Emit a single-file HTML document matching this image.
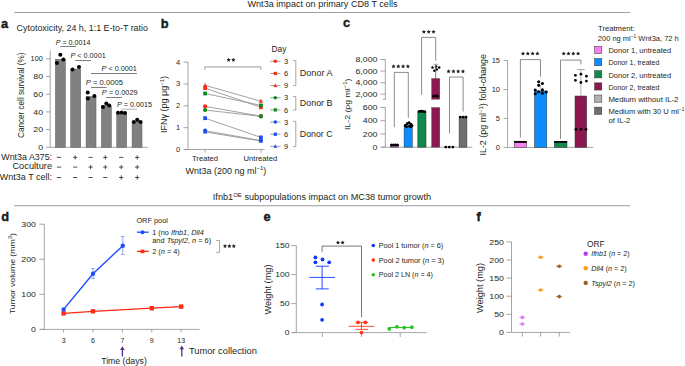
<!DOCTYPE html>
<html><head><meta charset="utf-8"><style>
html,body{margin:0;padding:0;background:#fff;width:685px;height:366px;overflow:hidden}
svg{display:block}
text{font-family:"Liberation Sans",sans-serif;fill:#231f20}
</style></head><body>
<svg width="685" height="366" viewBox="0 0 685 366">
<text x="247.50" y="6.80" font-size="8.3" textLength="150.00" lengthAdjust="spacingAndGlyphs" >Wnt3a impact on primary CD8 T cells</text>
<line x1="14.00" y1="12.50" x2="630.00" y2="12.50" stroke="#a0a0a0" stroke-width="1.2"/>
<text x="212.8" y="199.8" font-size="8.3" textLength="218.3" lengthAdjust="spacingAndGlyphs">Ifnb1<tspan font-size="5.5" dy="-3.2">OE</tspan><tspan dy="3.2"> subpopulations impact on MC38 tumor growth</tspan></text>
<line x1="14.00" y1="205.60" x2="630.00" y2="205.60" stroke="#b0b0b0" stroke-width="1.2"/>
<text x="1.00" y="27.70" font-size="12.8" fill="#000" font-weight="bold" stroke="#000" stroke-width="0.35">a</text>
<text x="16.60" y="30.60" font-size="8.3" textLength="131.40" lengthAdjust="spacingAndGlyphs" >Cytotoxicity, 24 h, 1:1 E-to-T ratio</text>
<line x1="50.20" y1="50.50" x2="50.20" y2="147.80" stroke="#8f8f8f" stroke-width="0.8"/>
<line x1="46.00" y1="147.30" x2="50.20" y2="147.30" stroke="#8f8f8f" stroke-width="0.8"/>
<text x="0" y="0" font-size="7.3" text-anchor="end" transform="translate(43.10,149.90) scale(1.2,1)">0</text>
<line x1="46.00" y1="129.60" x2="50.20" y2="129.60" stroke="#8f8f8f" stroke-width="0.8"/>
<text x="0" y="0" font-size="7.3" text-anchor="end" transform="translate(43.10,132.20) scale(1.2,1)">20</text>
<line x1="46.00" y1="111.90" x2="50.20" y2="111.90" stroke="#8f8f8f" stroke-width="0.8"/>
<text x="0" y="0" font-size="7.3" text-anchor="end" transform="translate(43.10,114.50) scale(1.2,1)">40</text>
<line x1="46.00" y1="94.20" x2="50.20" y2="94.20" stroke="#8f8f8f" stroke-width="0.8"/>
<text x="0" y="0" font-size="7.3" text-anchor="end" transform="translate(43.10,96.80) scale(1.2,1)">60</text>
<line x1="46.00" y1="76.50" x2="50.20" y2="76.50" stroke="#8f8f8f" stroke-width="0.8"/>
<text x="0" y="0" font-size="7.3" text-anchor="end" transform="translate(43.10,79.10) scale(1.2,1)">80</text>
<line x1="46.00" y1="58.80" x2="50.20" y2="58.80" stroke="#8f8f8f" stroke-width="0.8"/>
<text x="0" y="0" font-size="7.3" text-anchor="end" transform="translate(42.80,61.40) scale(1.0,1)">100</text>
<line x1="50.20" y1="147.30" x2="147.70" y2="147.30" stroke="#8f8f8f" stroke-width="0.8"/>
<text x="0" y="0" font-size="8.3" text-anchor="middle" textLength="85.30" lengthAdjust="spacingAndGlyphs" transform="translate(24.30,95.30) rotate(-90)">Cancer cell survival (%)</text>
<rect x="55.45" y="59.30" width="9.90" height="88.00" fill="#808080" stroke="#5a5a5a" stroke-width="0.5"/>
<rect x="70.78" y="69.04" width="9.90" height="78.27" fill="#808080" stroke="#5a5a5a" stroke-width="0.5"/>
<rect x="86.11" y="96.47" width="9.90" height="50.83" fill="#808080" stroke="#5a5a5a" stroke-width="0.5"/>
<rect x="101.44" y="105.76" width="9.90" height="41.54" fill="#808080" stroke="#5a5a5a" stroke-width="0.5"/>
<rect x="116.77" y="113.29" width="9.90" height="34.02" fill="#808080" stroke="#5a5a5a" stroke-width="0.5"/>
<rect x="132.10" y="121.25" width="9.90" height="26.05" fill="#808080" stroke="#5a5a5a" stroke-width="0.5"/>
<circle cx="60.30" cy="54.70" r="2.0" fill="#000"/>
<circle cx="56.90" cy="63.00" r="2.0" fill="#000"/>
<circle cx="63.40" cy="59.40" r="2.0" fill="#000"/>
<circle cx="72.50" cy="69.60" r="2.0" fill="#000"/>
<circle cx="79.00" cy="67.10" r="2.0" fill="#000"/>
<circle cx="87.70" cy="92.40" r="2.0" fill="#000"/>
<circle cx="87.90" cy="98.60" r="2.0" fill="#000"/>
<circle cx="94.40" cy="96.00" r="2.0" fill="#000"/>
<circle cx="103.00" cy="107.00" r="2.0" fill="#000"/>
<circle cx="106.30" cy="103.40" r="2.0" fill="#000"/>
<circle cx="109.20" cy="105.40" r="2.0" fill="#000"/>
<circle cx="118.00" cy="112.80" r="2.0" fill="#000"/>
<circle cx="121.60" cy="112.60" r="2.0" fill="#000"/>
<circle cx="125.00" cy="112.90" r="2.0" fill="#000"/>
<circle cx="133.80" cy="121.90" r="2.0" fill="#000"/>
<circle cx="137.20" cy="119.80" r="2.0" fill="#000"/>
<circle cx="140.50" cy="121.90" r="2.0" fill="#000"/>
<text x="55.70" y="44.70" font-size="6.8" textLength="34.80" lengthAdjust="spacingAndGlyphs" ><tspan font-style="italic">P</tspan> = 0.0014</text>
<line x1="60.30" y1="46.50" x2="76.00" y2="46.50" stroke="#6d6e70" stroke-width="0.9"/>
<text x="70.50" y="58.20" font-size="6.8" textLength="35.20" lengthAdjust="spacingAndGlyphs" ><tspan font-style="italic">P</tspan> &lt; 0.0001</text>
<line x1="75.40" y1="60.50" x2="91.00" y2="60.50" stroke="#6d6e70" stroke-width="0.9"/>
<text x="101.60" y="71.00" font-size="6.8" textLength="35.30" lengthAdjust="spacingAndGlyphs" ><tspan font-style="italic">P</tspan> &lt; 0.0001</text>
<line x1="91.00" y1="73.50" x2="136.90" y2="73.50" stroke="#6d6e70" stroke-width="0.9"/>
<text x="85.70" y="85.10" font-size="6.8" textLength="37.30" lengthAdjust="spacingAndGlyphs" ><tspan font-style="italic">P</tspan> = 0.0005</text>
<line x1="91.00" y1="87.50" x2="106.60" y2="87.50" stroke="#6d6e70" stroke-width="0.9"/>
<text x="101.80" y="95.10" font-size="6.8" textLength="35.90" lengthAdjust="spacingAndGlyphs" ><tspan font-style="italic">P</tspan> = 0.0029</text>
<line x1="106.20" y1="97.50" x2="121.80" y2="97.50" stroke="#6d6e70" stroke-width="0.9"/>
<text x="116.90" y="107.10" font-size="6.8" textLength="35.10" lengthAdjust="spacingAndGlyphs" ><tspan font-style="italic">P</tspan> = 0.0015</text>
<line x1="121.90" y1="109.20" x2="137.00" y2="109.20" stroke="#a7a9ac" stroke-width="0.9"/>
<text x="52.10" y="159.60" font-size="8.3" text-anchor="end" textLength="50.80" lengthAdjust="spacingAndGlyphs" >Wnt3a A375:</text>
<line x1="56.90" y1="157.40" x2="61.10" y2="157.40" stroke="#3a3a3a" stroke-width="0.9"/>
<line x1="73.10" y1="157.40" x2="77.30" y2="157.40" stroke="#3a3a3a" stroke-width="0.9"/>
<line x1="75.20" y1="155.30" x2="75.20" y2="159.50" stroke="#3a3a3a" stroke-width="0.9"/>
<line x1="88.50" y1="157.40" x2="92.70" y2="157.40" stroke="#3a3a3a" stroke-width="0.9"/>
<line x1="103.20" y1="157.40" x2="107.40" y2="157.40" stroke="#3a3a3a" stroke-width="0.9"/>
<line x1="105.30" y1="155.30" x2="105.30" y2="159.50" stroke="#3a3a3a" stroke-width="0.9"/>
<line x1="119.10" y1="157.40" x2="123.30" y2="157.40" stroke="#3a3a3a" stroke-width="0.9"/>
<line x1="135.10" y1="157.40" x2="139.30" y2="157.40" stroke="#3a3a3a" stroke-width="0.9"/>
<line x1="137.20" y1="155.30" x2="137.20" y2="159.50" stroke="#3a3a3a" stroke-width="0.9"/>
<text x="52.10" y="169.40" font-size="8.3" text-anchor="end" textLength="39.70" lengthAdjust="spacingAndGlyphs" >Coculture</text>
<line x1="56.90" y1="167.10" x2="61.10" y2="167.10" stroke="#3a3a3a" stroke-width="0.9"/>
<line x1="73.10" y1="167.10" x2="77.30" y2="167.10" stroke="#3a3a3a" stroke-width="0.9"/>
<line x1="88.50" y1="167.10" x2="92.70" y2="167.10" stroke="#3a3a3a" stroke-width="0.9"/>
<line x1="90.60" y1="165.00" x2="90.60" y2="169.20" stroke="#3a3a3a" stroke-width="0.9"/>
<line x1="103.20" y1="167.10" x2="107.40" y2="167.10" stroke="#3a3a3a" stroke-width="0.9"/>
<line x1="105.30" y1="165.00" x2="105.30" y2="169.20" stroke="#3a3a3a" stroke-width="0.9"/>
<line x1="119.10" y1="167.10" x2="123.30" y2="167.10" stroke="#3a3a3a" stroke-width="0.9"/>
<line x1="121.20" y1="165.00" x2="121.20" y2="169.20" stroke="#3a3a3a" stroke-width="0.9"/>
<line x1="135.10" y1="167.10" x2="139.30" y2="167.10" stroke="#3a3a3a" stroke-width="0.9"/>
<line x1="137.20" y1="165.00" x2="137.20" y2="169.20" stroke="#3a3a3a" stroke-width="0.9"/>
<text x="52.10" y="179.60" font-size="8.3" text-anchor="end" textLength="52.30" lengthAdjust="spacingAndGlyphs" >Wnt3a T cell:</text>
<line x1="56.90" y1="177.50" x2="61.10" y2="177.50" stroke="#3a3a3a" stroke-width="0.9"/>
<line x1="73.10" y1="177.50" x2="77.30" y2="177.50" stroke="#3a3a3a" stroke-width="0.9"/>
<line x1="88.50" y1="177.50" x2="92.70" y2="177.50" stroke="#3a3a3a" stroke-width="0.9"/>
<line x1="103.20" y1="177.50" x2="107.40" y2="177.50" stroke="#3a3a3a" stroke-width="0.9"/>
<line x1="119.10" y1="177.50" x2="123.30" y2="177.50" stroke="#3a3a3a" stroke-width="0.9"/>
<line x1="121.20" y1="175.40" x2="121.20" y2="179.60" stroke="#3a3a3a" stroke-width="0.9"/>
<line x1="135.10" y1="177.50" x2="139.30" y2="177.50" stroke="#3a3a3a" stroke-width="0.9"/>
<line x1="137.20" y1="175.40" x2="137.20" y2="179.60" stroke="#3a3a3a" stroke-width="0.9"/>
<text x="160.80" y="28.00" font-size="12.8" fill="#000" font-weight="bold" stroke="#000" stroke-width="0.35">b</text>
<line x1="188.00" y1="62.00" x2="188.00" y2="149.50" stroke="#8f8f8f" stroke-width="0.8"/>
<line x1="183.50" y1="149.50" x2="188.00" y2="149.50" stroke="#8f8f8f" stroke-width="0.8"/>
<text x="180.20" y="152.00" font-size="7.5" text-anchor="end" >0</text>
<line x1="183.50" y1="127.65" x2="188.00" y2="127.65" stroke="#8f8f8f" stroke-width="0.8"/>
<text x="180.20" y="130.15" font-size="7.5" text-anchor="end" >1</text>
<line x1="183.50" y1="105.80" x2="188.00" y2="105.80" stroke="#8f8f8f" stroke-width="0.8"/>
<text x="180.20" y="108.30" font-size="7.5" text-anchor="end" >2</text>
<line x1="183.50" y1="83.95" x2="188.00" y2="83.95" stroke="#8f8f8f" stroke-width="0.8"/>
<text x="180.20" y="86.45" font-size="7.5" text-anchor="end" >3</text>
<line x1="183.50" y1="62.10" x2="188.00" y2="62.10" stroke="#8f8f8f" stroke-width="0.8"/>
<text x="180.20" y="64.60" font-size="7.5" text-anchor="end" >4</text>
<line x1="184.00" y1="149.50" x2="264.60" y2="149.50" stroke="#8f8f8f" stroke-width="0.8"/>
<line x1="205.00" y1="149.50" x2="205.00" y2="152.60" stroke="#8f8f8f" stroke-width="0.8"/>
<line x1="261.00" y1="149.50" x2="261.00" y2="152.60" stroke="#8f8f8f" stroke-width="0.8"/>
<text x="205.00" y="160.60" font-size="7" text-anchor="middle" textLength="26.00" lengthAdjust="spacingAndGlyphs" >Treated</text>
<text x="260.40" y="160.60" font-size="7" text-anchor="middle" textLength="33.80" lengthAdjust="spacingAndGlyphs" >Untreated</text>
<text x="185.6" y="173.7" font-size="8.3" textLength="80.7" lengthAdjust="spacingAndGlyphs">Wnt3a (200 ng ml<tspan font-size="5.5" dy="-3.6">−1</tspan><tspan dy="3.6">)</tspan></text>
<text x="0" y="0" font-size="8.3" text-anchor="middle" textLength="57.00" lengthAdjust="spacingAndGlyphs" transform="translate(166.70,104.50) rotate(-90)">IFNγ (pg μg<tspan font-size="5.5" dy="-3">−1</tspan><tspan dy="3">)</tspan></text>
<path d="M228.65,57.75 L229.28,59.03 L230.69,59.24 L229.67,60.23 L229.91,61.64 L228.65,60.98 L227.39,61.64 L227.63,60.23 L226.61,59.24 L228.02,59.03 Z" fill="#231f20"/>
<path d="M233.35,57.75 L233.98,59.03 L235.39,59.24 L234.37,60.23 L234.61,61.64 L233.35,60.98 L232.09,61.64 L232.33,60.23 L231.31,59.24 L232.72,59.03 Z" fill="#231f20"/>
<path d="M204.9,69.8 V66.9 H260.9 V69.8" stroke="#8f8f8f" stroke-width="0.9" fill="none" />
<line x1="205.10" y1="85.30" x2="260.90" y2="101.20" stroke="#8a8a8a" stroke-width="0.8"/>
<line x1="205.10" y1="88.10" x2="260.90" y2="107.30" stroke="#8a8a8a" stroke-width="0.8"/>
<line x1="205.10" y1="93.50" x2="260.90" y2="105.40" stroke="#8a8a8a" stroke-width="0.8"/>
<line x1="205.10" y1="106.40" x2="260.90" y2="116.20" stroke="#8a8a8a" stroke-width="0.8"/>
<line x1="205.10" y1="110.00" x2="260.90" y2="116.40" stroke="#8a8a8a" stroke-width="0.8"/>
<line x1="205.10" y1="118.20" x2="260.90" y2="137.40" stroke="#8a8a8a" stroke-width="0.8"/>
<line x1="205.10" y1="130.70" x2="260.90" y2="140.60" stroke="#8a8a8a" stroke-width="0.8"/>
<line x1="205.10" y1="132.00" x2="260.90" y2="141.00" stroke="#8a8a8a" stroke-width="0.8"/>
<path d="M205.10,82.92 L207.31,86.89 L202.89,86.89 Z" fill="#ff2a12"/>
<path d="M260.90,98.82 L263.10,102.79 L258.69,102.79 Z" fill="#ff2a12"/>
<rect x="203.21" y="86.21" width="3.78" height="3.78" fill="#ff2a12" stroke="none" stroke-width="0.5"/>
<rect x="259.01" y="105.41" width="3.78" height="3.78" fill="#ff2a12" stroke="none" stroke-width="0.5"/>
<rect x="203.21" y="91.61" width="3.78" height="3.78" fill="#0b8c1e" stroke="none" stroke-width="0.5"/>
<rect x="259.01" y="103.51" width="3.78" height="3.78" fill="#0b8c1e" stroke="none" stroke-width="0.5"/>
<circle cx="205.10" cy="106.40" r="2.1" fill="#ff2a12"/>
<circle cx="260.90" cy="116.20" r="2.1" fill="#ff2a12"/>
<circle cx="205.10" cy="110.00" r="2.1" fill="#0b8c1e"/>
<circle cx="260.90" cy="116.40" r="2.1" fill="#0b8c1e"/>
<rect x="203.21" y="116.31" width="3.78" height="3.78" fill="#1b4cf0" stroke="none" stroke-width="0.5"/>
<rect x="259.01" y="135.51" width="3.78" height="3.78" fill="#1b4cf0" stroke="none" stroke-width="0.5"/>
<circle cx="205.10" cy="130.70" r="2.1" fill="#1b4cf0"/>
<circle cx="260.90" cy="140.60" r="2.1" fill="#1b4cf0"/>
<path d="M205.10,129.62 L207.31,133.59 L202.89,133.59 Z" fill="#1b4cf0"/>
<path d="M260.90,138.62 L263.10,142.59 L258.69,142.59 Z" fill="#1b4cf0"/>
<text x="271.60" y="52.00" font-size="8.3" >Day</text>
<line x1="270.00" y1="61.30" x2="280.60" y2="61.30" stroke="#8a8a8a" stroke-width="0.8"/>
<circle cx="275.30" cy="61.30" r="1.8" fill="#ff2a12"/>
<text x="284.00" y="63.90" font-size="7.5" >3</text>
<line x1="270.00" y1="73.45" x2="280.60" y2="73.45" stroke="#8a8a8a" stroke-width="0.8"/>
<rect x="273.68" y="71.83" width="3.24" height="3.24" fill="#ff2a12" stroke="none" stroke-width="0.5"/>
<text x="284.00" y="76.05" font-size="7.5" >6</text>
<line x1="270.00" y1="85.60" x2="280.60" y2="85.60" stroke="#8a8a8a" stroke-width="0.8"/>
<path d="M275.30,83.56 L277.19,86.96 L273.41,86.96 Z" fill="#ff2a12"/>
<text x="284.00" y="88.20" font-size="7.5" >9</text>
<line x1="270.00" y1="97.75" x2="280.60" y2="97.75" stroke="#8a8a8a" stroke-width="0.8"/>
<circle cx="275.30" cy="97.75" r="1.8" fill="#0b8c1e"/>
<text x="284.00" y="100.35" font-size="7.5" >3</text>
<line x1="270.00" y1="109.90" x2="280.60" y2="109.90" stroke="#8a8a8a" stroke-width="0.8"/>
<rect x="273.68" y="108.28" width="3.24" height="3.24" fill="#0b8c1e" stroke="none" stroke-width="0.5"/>
<text x="284.00" y="112.50" font-size="7.5" >6</text>
<line x1="270.00" y1="122.05" x2="280.60" y2="122.05" stroke="#8a8a8a" stroke-width="0.8"/>
<circle cx="275.30" cy="122.05" r="1.8" fill="#1b4cf0"/>
<text x="284.00" y="124.65" font-size="7.5" >3</text>
<line x1="270.00" y1="134.20" x2="280.60" y2="134.20" stroke="#8a8a8a" stroke-width="0.8"/>
<rect x="273.68" y="132.58" width="3.24" height="3.24" fill="#1b4cf0" stroke="none" stroke-width="0.5"/>
<text x="284.00" y="136.80" font-size="7.5" >6</text>
<line x1="270.00" y1="146.35" x2="280.60" y2="146.35" stroke="#8a8a8a" stroke-width="0.8"/>
<path d="M275.30,144.31 L277.19,147.71 L273.41,147.71 Z" fill="#1b4cf0"/>
<text x="284.00" y="148.95" font-size="7.5" >9</text>
<path d="M293,60.5 H295.8 V85.6 H293" stroke="#8f8f8f" stroke-width="0.8" fill="none" />
<text x="299.80" y="76.05" font-size="8.3" textLength="32.70" lengthAdjust="spacingAndGlyphs" >Donor A</text>
<path d="M293,96.6 H295.8 V110 H293" stroke="#8f8f8f" stroke-width="0.8" fill="none" />
<text x="299.80" y="106.30" font-size="8.3" textLength="32.70" lengthAdjust="spacingAndGlyphs" >Donor B</text>
<path d="M293,121.3 H295.8 V146.6 H293" stroke="#8f8f8f" stroke-width="0.8" fill="none" />
<text x="299.80" y="136.95" font-size="8.3" textLength="32.70" lengthAdjust="spacingAndGlyphs" >Donor C</text>
<text x="343.00" y="27.30" font-size="12.8" fill="#000" font-weight="bold" stroke="#000" stroke-width="0.35">c</text>
<line x1="385.30" y1="59.50" x2="385.30" y2="99.50" stroke="#8f8f8f" stroke-width="0.8"/>
<line x1="382.80" y1="99.50" x2="385.30" y2="99.50" stroke="#8f8f8f" stroke-width="0.8"/>
<line x1="385.30" y1="107.30" x2="385.30" y2="147.20" stroke="#8f8f8f" stroke-width="0.8"/>
<line x1="380.30" y1="59.50" x2="385.30" y2="59.50" stroke="#8f8f8f" stroke-width="0.8"/>
<text x="0" y="0" font-size="7.5" text-anchor="end" transform="translate(377.50,62.10) scale(1.18,1)">8,000</text>
<line x1="380.30" y1="71.00" x2="385.30" y2="71.00" stroke="#8f8f8f" stroke-width="0.8"/>
<text x="0" y="0" font-size="7.5" text-anchor="end" transform="translate(377.50,73.60) scale(1.18,1)">6,000</text>
<line x1="380.30" y1="82.70" x2="385.30" y2="82.70" stroke="#8f8f8f" stroke-width="0.8"/>
<text x="0" y="0" font-size="7.5" text-anchor="end" transform="translate(377.50,85.30) scale(1.18,1)">4,000</text>
<line x1="380.30" y1="94.20" x2="385.30" y2="94.20" stroke="#8f8f8f" stroke-width="0.8"/>
<text x="0" y="0" font-size="7.5" text-anchor="end" transform="translate(377.50,96.80) scale(1.18,1)">2,000</text>
<line x1="380.30" y1="107.40" x2="385.30" y2="107.40" stroke="#8f8f8f" stroke-width="0.8"/>
<text x="0" y="0" font-size="7.5" text-anchor="end" transform="translate(377.50,110.00) scale(1.18,1)">600</text>
<line x1="380.30" y1="120.70" x2="385.30" y2="120.70" stroke="#8f8f8f" stroke-width="0.8"/>
<text x="0" y="0" font-size="7.5" text-anchor="end" transform="translate(377.50,123.30) scale(1.18,1)">400</text>
<line x1="380.30" y1="133.90" x2="385.30" y2="133.90" stroke="#8f8f8f" stroke-width="0.8"/>
<text x="0" y="0" font-size="7.5" text-anchor="end" transform="translate(377.50,136.50) scale(1.18,1)">200</text>
<line x1="380.30" y1="147.20" x2="385.30" y2="147.20" stroke="#8f8f8f" stroke-width="0.8"/>
<text x="0" y="0" font-size="7.5" text-anchor="end" transform="translate(377.50,149.80) scale(1.18,1)">0</text>
<line x1="382.00" y1="147.20" x2="472.40" y2="147.20" stroke="#8f8f8f" stroke-width="0.8"/>
<text x="0" y="0" font-size="8.1" text-anchor="middle" textLength="51.60" lengthAdjust="spacingAndGlyphs" transform="translate(350.00,104.30) rotate(-90)">IL-2 (pg ml<tspan font-size="5.5" dy="-3">−1</tspan><tspan dy="3">)</tspan></text>
<rect x="390.40" y="144.50" width="8.20" height="2.70" fill="#f77ff0" stroke="#333" stroke-width="0.5"/>
<rect x="404.10" y="126.00" width="8.20" height="21.20" fill="#0c8cff" stroke="#333" stroke-width="0.5"/>
<rect x="417.80" y="111.60" width="8.20" height="35.60" fill="#0f8a4a" stroke="#333" stroke-width="0.5"/>
<rect x="431.60" y="107.50" width="8.20" height="39.70" fill="#8c1850" stroke="#333" stroke-width="0.3"/>
<rect x="431.60" y="78.50" width="8.20" height="20.80" fill="#8c1850" stroke="#333" stroke-width="0.3"/>
<rect x="459.10" y="117.50" width="7.80" height="29.70" fill="#6f6f6f" stroke="#333" stroke-width="0.5"/>
<circle cx="391.60" cy="145.00" r="1.5" fill="#000"/>
<circle cx="393.60" cy="145.00" r="1.5" fill="#000"/>
<circle cx="395.50" cy="145.00" r="1.5" fill="#000"/>
<circle cx="397.40" cy="145.00" r="1.5" fill="#000"/>
<circle cx="405.30" cy="125.50" r="1.45" fill="#000"/>
<circle cx="407.20" cy="123.80" r="1.45" fill="#000"/>
<circle cx="409.00" cy="122.80" r="1.45" fill="#000"/>
<circle cx="410.80" cy="124.20" r="1.45" fill="#000"/>
<circle cx="412.00" cy="125.60" r="1.45" fill="#000"/>
<circle cx="406.50" cy="126.80" r="1.45" fill="#000"/>
<circle cx="409.50" cy="126.30" r="1.45" fill="#000"/>
<circle cx="411.00" cy="126.80" r="1.45" fill="#000"/>
<circle cx="419.30" cy="111.50" r="1.45" fill="#000"/>
<circle cx="421.10" cy="111.20" r="1.45" fill="#000"/>
<circle cx="422.90" cy="111.40" r="1.45" fill="#000"/>
<circle cx="424.60" cy="111.70" r="1.45" fill="#000"/>
<circle cx="433.50" cy="96.20" r="1.4" fill="#000"/>
<circle cx="437.50" cy="96.20" r="1.4" fill="#000"/>
<circle cx="435.70" cy="95.80" r="1.4" fill="#000"/>
<circle cx="432.50" cy="67.40" r="1.25" fill="#000"/>
<circle cx="436.10" cy="66.40" r="1.25" fill="#000"/>
<circle cx="439.20" cy="67.60" r="1.25" fill="#000"/>
<circle cx="434.40" cy="70.70" r="1.25" fill="#000"/>
<circle cx="436.80" cy="69.40" r="1.25" fill="#000"/>
<line x1="435.70" y1="64.30" x2="435.70" y2="78.50" stroke="#555" stroke-width="0.8"/>
<line x1="433.20" y1="64.30" x2="438.20" y2="64.30" stroke="#999" stroke-width="0.8"/>
<circle cx="445.80" cy="147.10" r="1.45" fill="#000"/>
<circle cx="449.30" cy="147.10" r="1.45" fill="#000"/>
<circle cx="452.80" cy="147.10" r="1.45" fill="#000"/>
<circle cx="460.30" cy="117.10" r="1.45" fill="#000"/>
<circle cx="463.20" cy="117.10" r="1.45" fill="#000"/>
<circle cx="466.00" cy="117.10" r="1.45" fill="#000"/>
<path d="M394.3,127.3 V72.4 H408.3 V117.8" stroke="#6e6e6e" stroke-width="0.8" fill="none" />
<path d="M393.50,64.25 L394.13,65.53 L395.54,65.74 L394.52,66.73 L394.76,68.14 L393.50,67.48 L392.24,68.14 L392.48,66.73 L391.46,65.74 L392.87,65.53 Z" fill="#231f20"/>
<path d="M398.30,64.25 L398.93,65.53 L400.34,65.74 L399.32,66.73 L399.56,68.14 L398.30,67.48 L397.04,68.14 L397.28,66.73 L396.26,65.74 L397.67,65.53 Z" fill="#231f20"/>
<path d="M403.10,64.25 L403.73,65.53 L405.14,65.74 L404.12,66.73 L404.36,68.14 L403.10,67.48 L401.84,68.14 L402.08,66.73 L401.06,65.74 L402.47,65.53 Z" fill="#231f20"/>
<path d="M407.90,64.25 L408.53,65.53 L409.94,65.74 L408.92,66.73 L409.16,68.14 L407.90,67.48 L406.64,68.14 L406.88,66.73 L405.86,65.74 L407.27,65.53 Z" fill="#231f20"/>
<path d="M421.6,94.9 V37.4 H435.7 V60.7" stroke="#6e6e6e" stroke-width="0.8" fill="none" />
<path d="M423.90,29.65 L424.53,30.93 L425.94,31.14 L424.92,32.13 L425.16,33.54 L423.90,32.88 L422.64,33.54 L422.88,32.13 L421.86,31.14 L423.27,30.93 Z" fill="#231f20"/>
<path d="M428.70,29.65 L429.33,30.93 L430.74,31.14 L429.72,32.13 L429.96,33.54 L428.70,32.88 L427.44,33.54 L427.68,32.13 L426.66,31.14 L428.07,30.93 Z" fill="#231f20"/>
<path d="M433.50,29.65 L434.13,30.93 L435.54,31.14 L434.52,32.13 L434.76,33.54 L433.50,32.88 L432.24,33.54 L432.48,32.13 L431.46,31.14 L432.87,30.93 Z" fill="#231f20"/>
<path d="M449.5,133.5 V77 H463.1 V111.6" stroke="#6e6e6e" stroke-width="0.8" fill="none" />
<path d="M448.60,69.25 L449.23,70.53 L450.64,70.74 L449.62,71.73 L449.86,73.14 L448.60,72.48 L447.34,73.14 L447.58,71.73 L446.56,70.74 L447.97,70.53 Z" fill="#231f20"/>
<path d="M453.40,69.25 L454.03,70.53 L455.44,70.74 L454.42,71.73 L454.66,73.14 L453.40,72.48 L452.14,73.14 L452.38,71.73 L451.36,70.74 L452.77,70.53 Z" fill="#231f20"/>
<path d="M458.20,69.25 L458.83,70.53 L460.24,70.74 L459.22,71.73 L459.46,73.14 L458.20,72.48 L456.94,73.14 L457.18,71.73 L456.16,70.74 L457.57,70.53 Z" fill="#231f20"/>
<path d="M463.00,69.25 L463.63,70.53 L465.04,70.74 L464.02,71.73 L464.26,73.14 L463.00,72.48 L461.74,73.14 L461.98,71.73 L460.96,70.74 L462.37,70.53 Z" fill="#231f20"/>
<line x1="507.60" y1="60.40" x2="507.60" y2="147.40" stroke="#8f8f8f" stroke-width="0.8"/>
<line x1="503.60" y1="147.40" x2="507.60" y2="147.40" stroke="#8f8f8f" stroke-width="0.8"/>
<text x="500.00" y="149.90" font-size="7.5" text-anchor="end" >0</text>
<line x1="503.60" y1="118.45" x2="507.60" y2="118.45" stroke="#8f8f8f" stroke-width="0.8"/>
<text x="500.00" y="120.95" font-size="7.5" text-anchor="end" >5</text>
<line x1="503.60" y1="89.50" x2="507.60" y2="89.50" stroke="#8f8f8f" stroke-width="0.8"/>
<text x="500.00" y="92.00" font-size="7.5" text-anchor="end" >10</text>
<line x1="503.60" y1="60.55" x2="507.60" y2="60.55" stroke="#8f8f8f" stroke-width="0.8"/>
<text x="500.00" y="63.05" font-size="7.5" text-anchor="end" >15</text>
<line x1="507.60" y1="147.40" x2="593.30" y2="147.40" stroke="#8f8f8f" stroke-width="0.8"/>
<text x="0" y="0" font-size="8.3" text-anchor="middle" textLength="101.50" lengthAdjust="spacingAndGlyphs" transform="translate(485.80,104.80) rotate(-90)">IL-2 (pg ml<tspan font-size="5.5" dy="-3">−1</tspan><tspan dy="3">) fold-change</tspan></text>
<rect x="514.20" y="141.61" width="12.50" height="5.79" fill="#f77ff0" stroke="#333" stroke-width="0.5"/>
<rect x="534.50" y="91.00" width="12.30" height="56.40" fill="#0c8cff" stroke="#333" stroke-width="0.5"/>
<rect x="554.30" y="141.61" width="12.70" height="5.79" fill="#0f8a4a" stroke="#333" stroke-width="0.5"/>
<rect x="575.00" y="96.00" width="11.70" height="51.40" fill="#8c1850" stroke="#333" stroke-width="0.5"/>
<line x1="514.20" y1="141.91" x2="526.70" y2="141.91" stroke="#000" stroke-width="1.9"/>
<line x1="554.30" y1="141.91" x2="567.00" y2="141.91" stroke="#000" stroke-width="1.9"/>
<line x1="540.50" y1="85.00" x2="540.50" y2="89.40" stroke="#aaa" stroke-width="0.8"/>
<circle cx="538.70" cy="81.80" r="1.55" fill="#000"/>
<circle cx="542.40" cy="83.50" r="1.55" fill="#000"/>
<circle cx="538.70" cy="85.30" r="1.55" fill="#000"/>
<circle cx="535.30" cy="90.00" r="1.55" fill="#000"/>
<circle cx="542.40" cy="89.90" r="1.55" fill="#000"/>
<circle cx="538.70" cy="91.70" r="1.55" fill="#000"/>
<circle cx="535.30" cy="93.80" r="1.55" fill="#000"/>
<circle cx="542.40" cy="93.30" r="1.55" fill="#000"/>
<circle cx="546.20" cy="92.10" r="1.55" fill="#000"/>
<line x1="580.90" y1="69.60" x2="580.90" y2="96.00" stroke="#aaa" stroke-width="0.9"/>
<line x1="577.00" y1="69.60" x2="584.70" y2="69.60" stroke="#999" stroke-width="0.9"/>
<circle cx="575.40" cy="75.30" r="1.4" fill="#000"/>
<circle cx="580.90" cy="74.20" r="1.4" fill="#000"/>
<circle cx="586.40" cy="76.20" r="1.4" fill="#000"/>
<circle cx="575.40" cy="80.30" r="1.4" fill="#000"/>
<circle cx="580.90" cy="82.50" r="1.4" fill="#000"/>
<circle cx="586.40" cy="81.10" r="1.4" fill="#000"/>
<circle cx="576.00" cy="129.30" r="1.4" fill="#000"/>
<circle cx="581.00" cy="129.30" r="1.4" fill="#000"/>
<circle cx="586.00" cy="129.30" r="1.4" fill="#000"/>
<path d="M520.4,137.4 V59.6 H540.5 V76.7" stroke="#6e6e6e" stroke-width="0.8" fill="none" />
<path d="M523.00,51.45 L523.63,52.73 L525.04,52.94 L524.02,53.93 L524.26,55.34 L523.00,54.68 L521.74,55.34 L521.98,53.93 L520.96,52.94 L522.37,52.73 Z" fill="#231f20"/>
<path d="M527.80,51.45 L528.43,52.73 L529.84,52.94 L528.82,53.93 L529.06,55.34 L527.80,54.68 L526.54,55.34 L526.78,53.93 L525.76,52.94 L527.17,52.73 Z" fill="#231f20"/>
<path d="M532.60,51.45 L533.23,52.73 L534.64,52.94 L533.62,53.93 L533.86,55.34 L532.60,54.68 L531.34,55.34 L531.58,53.93 L530.56,52.94 L531.97,52.73 Z" fill="#231f20"/>
<path d="M537.40,51.45 L538.03,52.73 L539.44,52.94 L538.42,53.93 L538.66,55.34 L537.40,54.68 L536.14,55.34 L536.38,53.93 L535.36,52.94 L536.77,52.73 Z" fill="#231f20"/>
<path d="M560.5,138.9 V60.1 H580.9 V64.4" stroke="#6e6e6e" stroke-width="0.8" fill="none" />
<path d="M563.70,51.45 L564.33,52.73 L565.74,52.94 L564.72,53.93 L564.96,55.34 L563.70,54.68 L562.44,55.34 L562.68,53.93 L561.66,52.94 L563.07,52.73 Z" fill="#231f20"/>
<path d="M568.50,51.45 L569.13,52.73 L570.54,52.94 L569.52,53.93 L569.76,55.34 L568.50,54.68 L567.24,55.34 L567.48,53.93 L566.46,52.94 L567.87,52.73 Z" fill="#231f20"/>
<path d="M573.30,51.45 L573.93,52.73 L575.34,52.94 L574.32,53.93 L574.56,55.34 L573.30,54.68 L572.04,55.34 L572.28,53.93 L571.26,52.94 L572.67,52.73 Z" fill="#231f20"/>
<path d="M578.10,51.45 L578.73,52.73 L580.14,52.94 L579.12,53.93 L579.36,55.34 L578.10,54.68 L576.84,55.34 L577.08,53.93 L576.06,52.94 L577.47,52.73 Z" fill="#231f20"/>
<text x="598.00" y="31.40" font-size="7.8" textLength="36.70" lengthAdjust="spacingAndGlyphs" >Treatment:</text>
<text x="597.8" y="40.5" font-size="7.8" textLength="81" lengthAdjust="spacingAndGlyphs">200 ng ml<tspan font-size="5" dy="-3">−1</tspan><tspan dy="3"> Wnt3a, 72 h</tspan></text>
<rect x="594.60" y="46.40" width="7.20" height="7.20" fill="#f77ff0" stroke="#333" stroke-width="0.5"/>
<text x="608.40" y="53.20" font-size="7.8" textLength="62.80" lengthAdjust="spacingAndGlyphs" >Donor 1, untreated</text>
<rect x="594.60" y="58.55" width="7.20" height="7.20" fill="#0c8cff" stroke="#333" stroke-width="0.5"/>
<text x="608.40" y="65.35" font-size="7.8" textLength="51.00" lengthAdjust="spacingAndGlyphs" >Donor 1, treated</text>
<rect x="594.60" y="70.70" width="7.20" height="7.20" fill="#0f8a4a" stroke="#333" stroke-width="0.5"/>
<text x="608.40" y="77.50" font-size="7.8" textLength="62.80" lengthAdjust="spacingAndGlyphs" >Donor 2, untreated</text>
<rect x="594.60" y="82.85" width="7.20" height="7.20" fill="#8c1850" stroke="#333" stroke-width="0.5"/>
<text x="608.40" y="89.65" font-size="7.8" textLength="51.00" lengthAdjust="spacingAndGlyphs" >Donor 2, treated</text>
<rect x="594.60" y="95.00" width="7.20" height="7.20" fill="#b1b1b1" stroke="#333" stroke-width="0.5"/>
<text x="608.40" y="101.80" font-size="7.8" textLength="70.00" lengthAdjust="spacingAndGlyphs" >Medium without IL-2</text>
<rect x="594.60" y="107.15" width="7.20" height="7.20" fill="#6f6f6f" stroke="#333" stroke-width="0.5"/>
<text x="608.4" y="114.0" font-size="7.8" textLength="76" lengthAdjust="spacingAndGlyphs">Medium with 30 U ml<tspan font-size="5" dy="-3">−1</tspan></text>
<text x="608.40" y="123.20" font-size="7.8" textLength="22.00" lengthAdjust="spacingAndGlyphs" >of IL-2</text>
<text x="1.20" y="221.00" font-size="12.8" fill="#000" font-weight="bold" stroke="#000" stroke-width="0.35">d</text>
<line x1="44.30" y1="224.20" x2="44.30" y2="329.40" stroke="#8f8f8f" stroke-width="0.8"/>
<line x1="39.30" y1="329.40" x2="44.30" y2="329.40" stroke="#8f8f8f" stroke-width="0.8"/>
<text x="0" y="0" font-size="7.5" text-anchor="end" transform="translate(36.00,332.00) scale(1.17,1)">0</text>
<line x1="39.30" y1="294.33" x2="44.30" y2="294.33" stroke="#8f8f8f" stroke-width="0.8"/>
<text x="0" y="0" font-size="7.5" text-anchor="end" transform="translate(36.00,296.93) scale(1.17,1)">100</text>
<line x1="39.30" y1="259.26" x2="44.30" y2="259.26" stroke="#8f8f8f" stroke-width="0.8"/>
<text x="0" y="0" font-size="7.5" text-anchor="end" transform="translate(36.00,261.86) scale(1.17,1)">200</text>
<line x1="39.30" y1="224.19" x2="44.30" y2="224.19" stroke="#8f8f8f" stroke-width="0.8"/>
<text x="0" y="0" font-size="7.5" text-anchor="end" transform="translate(36.00,226.79) scale(1.17,1)">300</text>
<line x1="40.10" y1="329.40" x2="199.70" y2="329.40" stroke="#8f8f8f" stroke-width="0.8"/>
<line x1="63.60" y1="329.40" x2="63.60" y2="332.50" stroke="#8f8f8f" stroke-width="0.8"/>
<text x="63.60" y="343.30" font-size="7" text-anchor="middle" >3</text>
<line x1="93.00" y1="329.40" x2="93.00" y2="332.50" stroke="#8f8f8f" stroke-width="0.8"/>
<text x="93.00" y="343.30" font-size="7" text-anchor="middle" >6</text>
<line x1="122.40" y1="329.40" x2="122.40" y2="332.50" stroke="#8f8f8f" stroke-width="0.8"/>
<text x="122.40" y="343.30" font-size="7" text-anchor="middle" >7</text>
<line x1="151.80" y1="329.40" x2="151.80" y2="332.50" stroke="#8f8f8f" stroke-width="0.8"/>
<text x="151.80" y="343.30" font-size="7" text-anchor="middle" >9</text>
<line x1="181.20" y1="329.40" x2="181.20" y2="332.50" stroke="#8f8f8f" stroke-width="0.8"/>
<text x="181.20" y="343.30" font-size="7" text-anchor="middle" >13</text>
<text x="0" y="0" font-size="8.0" text-anchor="middle" textLength="81.00" lengthAdjust="spacingAndGlyphs" transform="translate(15.00,273.60) rotate(-90)">Tumor volume (mm<tspan font-size="5.5" dy="-3">3</tspan><tspan dy="3">)</tspan></text>
<path d="M181.2,306.6 L151.8,308.2 L93,311.3 L63.6,313.4" stroke="#ff2a10" stroke-width="1.3" fill="none" />
<rect x="61.40" y="311.20" width="4.40" height="4.40" fill="#ff2a10" stroke="none" stroke-width="0.5"/>
<rect x="90.80" y="309.10" width="4.40" height="4.40" fill="#ff2a10" stroke="none" stroke-width="0.5"/>
<rect x="149.60" y="306.00" width="4.40" height="4.40" fill="#ff2a10" stroke="none" stroke-width="0.5"/>
<rect x="179.00" y="304.40" width="4.40" height="4.40" fill="#ff2a10" stroke="none" stroke-width="0.5"/>
<path d="M63.6,309.4 L93,273.8 L122.8,245.7" stroke="#1f4dff" stroke-width="1.4" fill="none" />
<line x1="93.00" y1="268.50" x2="93.00" y2="278.50" stroke="#5f80ff" stroke-width="0.7"/>
<line x1="91.20" y1="268.50" x2="94.80" y2="268.50" stroke="#5f80ff" stroke-width="0.7"/>
<line x1="91.20" y1="278.50" x2="94.80" y2="278.50" stroke="#5f80ff" stroke-width="0.7"/>
<line x1="122.80" y1="236.40" x2="122.80" y2="254.50" stroke="#5f80ff" stroke-width="0.7"/>
<line x1="121.00" y1="236.40" x2="124.60" y2="236.40" stroke="#5f80ff" stroke-width="0.7"/>
<line x1="121.00" y1="254.50" x2="124.60" y2="254.50" stroke="#5f80ff" stroke-width="0.7"/>
<circle cx="63.60" cy="309.40" r="2.2" fill="#1f4dff"/>
<circle cx="93.00" cy="273.80" r="2.2" fill="#1f4dff"/>
<circle cx="122.80" cy="245.70" r="2.2" fill="#1f4dff"/>
<line x1="122.40" y1="356.40" x2="122.40" y2="348.80" stroke="#5b2a8c" stroke-width="1.3"/>
<path d="M120.10,349.90 L122.40,346.30 L124.70,349.90 Z" fill="#5b2a8c"/>
<line x1="181.80" y1="356.40" x2="181.80" y2="348.10" stroke="#5b2a8c" stroke-width="1.3"/>
<path d="M179.50,349.20 L181.80,345.60 L184.10,349.20 Z" fill="#5b2a8c"/>
<text x="101.20" y="364.40" font-size="8.3" textLength="45.60" lengthAdjust="spacingAndGlyphs" >Time (days)</text>
<text x="188.90" y="354.30" font-size="8.3" textLength="68.00" lengthAdjust="spacingAndGlyphs" >Tumor collection</text>
<text x="136.40" y="223.20" font-size="7.5" textLength="31.50" lengthAdjust="spacingAndGlyphs" >ORF pool</text>
<line x1="136.90" y1="232.20" x2="148.70" y2="232.20" stroke="#1f4dff" stroke-width="1.3"/>
<circle cx="142.50" cy="232.20" r="2" fill="#1f4dff"/>
<text x="152.2" y="234.8" font-size="7.3" textLength="51.6" lengthAdjust="spacingAndGlyphs">1 (no <tspan font-style="italic">Ifnb1</tspan>, <tspan font-style="italic">Dll4</tspan></text>
<text x="152.2" y="242.6" font-size="7.3" textLength="59" lengthAdjust="spacingAndGlyphs">and <tspan font-style="italic">Tspyl2</tspan>, <tspan font-style="italic">n</tspan> = 6)</text>
<line x1="136.90" y1="251.40" x2="148.70" y2="251.40" stroke="#ff2a10" stroke-width="1.3"/>
<rect x="140.70" y="249.60" width="3.60" height="3.60" fill="#ff2a10" stroke="none" stroke-width="0.5"/>
<text x="152.2" y="254.0" font-size="7.3" textLength="27.6" lengthAdjust="spacingAndGlyphs">2 (<tspan font-style="italic">n</tspan> = 4)</text>
<path d="M216.1,240.6 H219.6 V252.3 H216.1" stroke="#8f8f8f" stroke-width="0.8" fill="none" />
<path d="M225.00,244.05 L225.63,245.33 L227.04,245.54 L226.02,246.53 L226.26,247.94 L225.00,247.27 L223.74,247.94 L223.98,246.53 L222.96,245.54 L224.37,245.33 Z" fill="#231f20"/>
<path d="M229.40,244.05 L230.03,245.33 L231.44,245.54 L230.42,246.53 L230.66,247.94 L229.40,247.27 L228.14,247.94 L228.38,246.53 L227.36,245.54 L228.77,245.33 Z" fill="#231f20"/>
<path d="M233.80,244.05 L234.43,245.33 L235.84,245.54 L234.82,246.53 L235.06,247.94 L233.80,247.27 L232.54,247.94 L232.78,246.53 L231.76,245.54 L233.17,245.33 Z" fill="#231f20"/>
<text x="263.60" y="221.20" font-size="12.8" fill="#000" font-weight="bold" stroke="#000" stroke-width="0.35">e</text>
<line x1="296.30" y1="245.50" x2="296.30" y2="332.60" stroke="#8f8f8f" stroke-width="0.8"/>
<line x1="291.30" y1="332.60" x2="296.30" y2="332.60" stroke="#8f8f8f" stroke-width="0.8"/>
<text x="0" y="0" font-size="7.5" text-anchor="end" transform="translate(289.60,335.20) scale(1.15,1)">0</text>
<line x1="291.30" y1="303.60" x2="296.30" y2="303.60" stroke="#8f8f8f" stroke-width="0.8"/>
<text x="0" y="0" font-size="7.5" text-anchor="end" transform="translate(289.60,306.20) scale(1.15,1)">50</text>
<line x1="291.30" y1="274.60" x2="296.30" y2="274.60" stroke="#8f8f8f" stroke-width="0.8"/>
<text x="0" y="0" font-size="7.5" text-anchor="end" transform="translate(289.60,277.20) scale(1.15,1)">100</text>
<line x1="291.30" y1="245.60" x2="296.30" y2="245.60" stroke="#8f8f8f" stroke-width="0.8"/>
<text x="0" y="0" font-size="7.5" text-anchor="end" transform="translate(289.60,248.20) scale(1.15,1)">150</text>
<line x1="293.50" y1="332.60" x2="426.80" y2="332.60" stroke="#8f8f8f" stroke-width="0.8"/>
<line x1="322.30" y1="332.60" x2="322.30" y2="337.00" stroke="#8f8f8f" stroke-width="0.8"/>
<line x1="361.50" y1="332.60" x2="361.50" y2="337.00" stroke="#8f8f8f" stroke-width="0.8"/>
<line x1="400.20" y1="332.60" x2="400.20" y2="337.00" stroke="#8f8f8f" stroke-width="0.8"/>
<text x="0" y="0" font-size="8.3" text-anchor="middle" textLength="50.00" lengthAdjust="spacingAndGlyphs" transform="translate(271.20,289.50) rotate(-90)">Weight (mg)</text>
<path d="M322.1,251.8 V246.1 H361.5 V317.2" stroke="#555" stroke-width="0.8" fill="none" />
<path d="M338.00,240.45 L338.63,241.73 L340.04,241.94 L339.02,242.93 L339.26,244.34 L338.00,243.67 L336.74,244.34 L336.98,242.93 L335.96,241.94 L337.37,241.73 Z" fill="#231f20"/>
<path d="M342.60,240.45 L343.23,241.73 L344.64,241.94 L343.62,242.93 L343.86,244.34 L342.60,243.67 L341.34,244.34 L341.58,242.93 L340.56,241.94 L341.97,241.73 Z" fill="#231f20"/>
<circle cx="315.40" cy="257.40" r="1.9" fill="#1038ff"/>
<circle cx="315.40" cy="262.30" r="1.9" fill="#1038ff"/>
<circle cx="322.50" cy="259.50" r="1.9" fill="#1038ff"/>
<circle cx="329.20" cy="262.30" r="1.9" fill="#1038ff"/>
<circle cx="322.10" cy="304.50" r="1.9" fill="#1038ff"/>
<circle cx="322.10" cy="319.80" r="1.9" fill="#1038ff"/>
<line x1="309.30" y1="277.40" x2="335.00" y2="277.40" stroke="#1038ff" stroke-width="0.9"/>
<line x1="322.10" y1="266.20" x2="322.10" y2="288.90" stroke="#1038ff" stroke-width="0.9"/>
<line x1="315.80" y1="266.20" x2="328.80" y2="266.20" stroke="#1038ff" stroke-width="0.9"/>
<line x1="315.80" y1="288.90" x2="328.80" y2="288.90" stroke="#1038ff" stroke-width="0.9"/>
<circle cx="358.00" cy="322.40" r="1.9" fill="#ff3a1a"/>
<circle cx="365.30" cy="322.40" r="1.9" fill="#ff3a1a"/>
<circle cx="361.50" cy="332.60" r="1.9" fill="#ff3a1a"/>
<line x1="348.70" y1="326.30" x2="374.40" y2="326.30" stroke="#ff3a1a" stroke-width="0.9"/>
<line x1="361.50" y1="322.40" x2="361.50" y2="329.40" stroke="#ff3a1a" stroke-width="0.9"/>
<line x1="355.40" y1="322.40" x2="368.10" y2="322.40" stroke="#ff3a1a" stroke-width="0.9"/>
<line x1="355.40" y1="329.40" x2="368.10" y2="329.40" stroke="#ff3a1a" stroke-width="0.9"/>
<circle cx="389.30" cy="328.90" r="1.9" fill="#22c422"/>
<circle cx="396.90" cy="326.80" r="1.9" fill="#22c422"/>
<circle cx="404.20" cy="327.70" r="1.9" fill="#22c422"/>
<circle cx="411.80" cy="327.20" r="1.9" fill="#22c422"/>
<line x1="389.00" y1="327.50" x2="412.00" y2="327.50" stroke="#22c422" stroke-width="1.0"/>
<circle cx="373.30" cy="245.50" r="1.8" fill="#1038ff"/>
<circle cx="373.30" cy="260.10" r="1.8" fill="#ff3a1a"/>
<circle cx="373.30" cy="274.70" r="1.8" fill="#22c422"/>
<text x="378.7" y="248.2" font-size="7.3" textLength="64.5" lengthAdjust="spacingAndGlyphs">Pool 1 tumor (<tspan font-style="italic">n</tspan> = 6)</text>
<text x="378.7" y="262.7" font-size="7.3" textLength="65.5" lengthAdjust="spacingAndGlyphs">Pool 2 tumor (<tspan font-style="italic">n</tspan> = 3)</text>
<text x="378.7" y="277.4" font-size="7.3" textLength="54.3" lengthAdjust="spacingAndGlyphs">Pool 2 LN (<tspan font-style="italic">n</tspan> = 4)</text>
<text x="476.40" y="221.40" font-size="12.8" fill="#000" font-weight="bold" stroke="#000" stroke-width="0.35">f</text>
<line x1="511.50" y1="241.90" x2="511.50" y2="332.40" stroke="#8f8f8f" stroke-width="0.8"/>
<line x1="506.50" y1="332.40" x2="511.50" y2="332.40" stroke="#8f8f8f" stroke-width="0.8"/>
<text x="0" y="0" font-size="7.5" text-anchor="end" transform="translate(503.90,335.00) scale(1.17,1)">0</text>
<line x1="506.50" y1="314.30" x2="511.50" y2="314.30" stroke="#8f8f8f" stroke-width="0.8"/>
<text x="0" y="0" font-size="7.5" text-anchor="end" transform="translate(503.90,316.90) scale(1.17,1)">50</text>
<line x1="506.50" y1="296.20" x2="511.50" y2="296.20" stroke="#8f8f8f" stroke-width="0.8"/>
<text x="0" y="0" font-size="7.5" text-anchor="end" transform="translate(503.90,298.80) scale(1.17,1)">100</text>
<line x1="506.50" y1="278.10" x2="511.50" y2="278.10" stroke="#8f8f8f" stroke-width="0.8"/>
<text x="0" y="0" font-size="7.5" text-anchor="end" transform="translate(503.90,280.70) scale(1.17,1)">150</text>
<line x1="506.50" y1="260.00" x2="511.50" y2="260.00" stroke="#8f8f8f" stroke-width="0.8"/>
<text x="0" y="0" font-size="7.5" text-anchor="end" transform="translate(503.90,262.60) scale(1.17,1)">200</text>
<line x1="506.50" y1="241.90" x2="511.50" y2="241.90" stroke="#8f8f8f" stroke-width="0.8"/>
<text x="0" y="0" font-size="7.5" text-anchor="end" transform="translate(503.90,244.50) scale(1.17,1)">250</text>
<line x1="511.50" y1="332.40" x2="570.20" y2="332.40" stroke="#8f8f8f" stroke-width="0.8"/>
<line x1="522.30" y1="332.40" x2="522.30" y2="336.50" stroke="#8f8f8f" stroke-width="0.8"/>
<line x1="540.60" y1="332.40" x2="540.60" y2="336.50" stroke="#8f8f8f" stroke-width="0.8"/>
<line x1="559.20" y1="332.40" x2="559.20" y2="336.50" stroke="#8f8f8f" stroke-width="0.8"/>
<text x="0" y="0" font-size="8.3" text-anchor="middle" textLength="50.00" lengthAdjust="spacingAndGlyphs" transform="translate(483.30,288.00) rotate(-90)">Weight (mg)</text>
<line x1="519.30" y1="317.40" x2="525.30" y2="317.40" stroke="#d77ff5" stroke-width="0.8"/>
<circle cx="522.30" cy="317.40" r="1.8" fill="#d77ff5"/>
<line x1="519.30" y1="324.00" x2="525.30" y2="324.00" stroke="#d77ff5" stroke-width="0.8"/>
<circle cx="522.30" cy="324.00" r="1.8" fill="#d77ff5"/>
<line x1="537.60" y1="257.20" x2="543.60" y2="257.20" stroke="#ff9a12" stroke-width="0.8"/>
<circle cx="540.60" cy="257.20" r="1.8" fill="#ff9a12"/>
<line x1="537.60" y1="290.00" x2="543.60" y2="290.00" stroke="#ff9a12" stroke-width="0.8"/>
<circle cx="540.60" cy="290.00" r="1.8" fill="#ff9a12"/>
<line x1="556.20" y1="266.30" x2="562.20" y2="266.30" stroke="#9c5f22" stroke-width="0.8"/>
<circle cx="559.20" cy="266.30" r="1.8" fill="#9c5f22"/>
<line x1="556.20" y1="296.60" x2="562.20" y2="296.60" stroke="#9c5f22" stroke-width="0.8"/>
<circle cx="559.20" cy="296.60" r="1.8" fill="#9c5f22"/>
<text x="587.10" y="247.20" font-size="8.3" >ORF</text>
<circle cx="585.70" cy="253.70" r="2.2" fill="#b23be6"/>
<text x="591.2" y="256.30" font-size="7.3" textLength="38.3" lengthAdjust="spacingAndGlyphs"><tspan font-style="italic">Ifnb1</tspan> (<tspan font-style="italic">n</tspan> = 2)</text>
<circle cx="585.70" cy="268.30" r="2.2" fill="#ff9a12"/>
<text x="591.2" y="270.90" font-size="7.3" textLength="35.6" lengthAdjust="spacingAndGlyphs"><tspan font-style="italic">Dll4</tspan> (<tspan font-style="italic">n</tspan> = 2)</text>
<circle cx="585.70" cy="282.90" r="2.2" fill="#9c5f22"/>
<text x="591.2" y="285.50" font-size="7.3" textLength="43.8" lengthAdjust="spacingAndGlyphs"><tspan font-style="italic">Tspyl2</tspan> (<tspan font-style="italic">n</tspan> = 2)</text>
</svg></body></html>
